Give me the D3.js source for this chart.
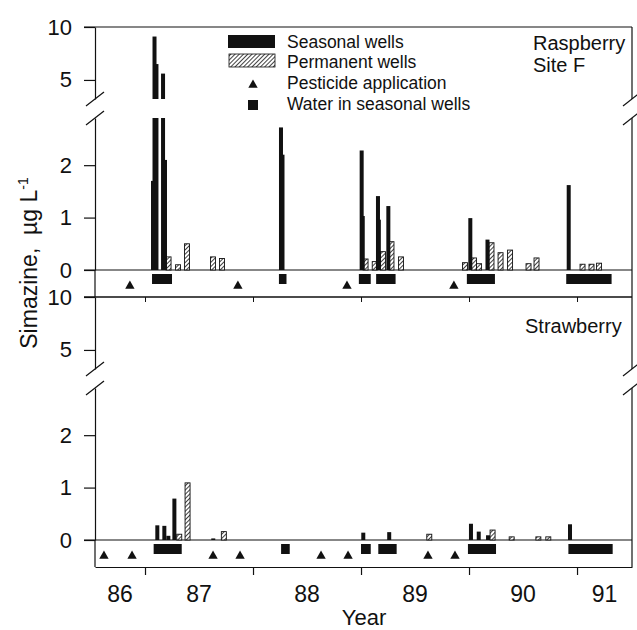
<!DOCTYPE html>
<html>
<head>
<meta charset="utf-8">
<script src="https://cdn.jsdelivr.net/npm/d3@7/dist/d3.min.js"></script>
<style>
  body { margin: 0; background: #fff; }
  svg text { font-family: "Liberation Sans", Arial, sans-serif; fill: #111; }
</style>
</head>
<body>
<div id="chart"></div>
<script>
// x axis: decimal years, ticks on Jan 1, labels centred in each year
const yearTicks = [1987, 1988, 1989, 1990, 1991];
const yearStarts = [1986, 1987, 1988, 1989, 1990, 1991];
const yearLabels = ["86", "87", "88", "89", "90", "91"];
// y axis ticks of the two (broken) segments
const lowTicks = [0, 1, 2];
const highTicks = [5, 10];

// Raspberry, site F  ([date, simazine ug/L])
const raspSeasonal = [
  [1987.074, 1.7], [1987.088, 9.1], [1987.106, 6.5], [1987.167, 5.6], [1987.185, 2.1],
  [1988.259, 2.72], [1988.273, 2.2],
  [1989.006, 2.28], [1989.016, 1.03], [1989.157, 1.41], [1989.165, 0.96], [1989.253, 1.22],
  [1990.012, 0.99], [1990.171, 0.58],
  [1990.923, 1.62]
];
const raspPermanent = [
  [1987.218, 0.25], [1987.306, 0.1], [1987.389, 0.5], [1987.63, 0.25], [1987.713, 0.22],
  [1989.042, 0.21], [1989.127, 0.16], [1989.204, 0.35], [1989.282, 0.54], [1989.37, 0.25],
  [1989.963, 0.14], [1990.046, 0.23], [1990.093, 0.12], [1990.208, 0.52], [1990.292, 0.33],
  [1990.38, 0.38], [1990.551, 0.12], [1990.625, 0.23],
  [1991.051, 0.11], [1991.134, 0.11], [1991.204, 0.13]
];
const raspWater = [
  [1987.065, 1987.25], [1988.24, 1988.31], [1988.98, 1989.09],
  [1989.14, 1989.32], [1989.98, 1990.24], [1990.90, 1991.32]
];
const raspApplications = [1986.86, 1987.86, 1988.87, 1989.86];

// Strawberry
const strawSeasonal = [
  [1987.114, 0.28], [1987.179, 0.27], [1987.216, 0.08], [1987.272, 0.79], [1987.632, 0.03],
  [1989.021, 0.14], [1989.261, 0.15],
  [1990.018, 0.31], [1990.09, 0.16], [1990.176, 0.09],
  [1990.935, 0.30]
];
const strawPermanent = [
  [1987.317, 0.11], [1987.394, 1.09], [1987.73, 0.16],
  [1989.632, 0.11], [1990.218, 0.19], [1990.395, 0.06], [1990.642, 0.06], [1990.734, 0.06]
];
const strawWater = [
  [1987.08, 1987.34], [1988.26, 1988.34], [1989.0, 1989.09],
  [1989.16, 1989.33], [1989.99, 1990.25], [1990.92, 1991.33]
];
const strawApplications = [1986.62, 1986.88, 1987.63, 1987.88, 1988.63, 1988.88, 1989.62, 1989.87];

const width = 637, height = 630;
const left = 95, right = 632;
const ink = "#111";

const svg = d3.select("#chart").append("svg")
  .attr("width", width)
  .attr("height", height);

const defs = svg.append("defs");
const pat = defs.append("pattern")
  .attr("id", "hatch")
  .attr("patternUnits", "userSpaceOnUse")
  .attr("width", 3).attr("height", 3)
  .attr("patternTransform", "rotate(45)");
pat.append("rect").attr("width", 3).attr("height", 3).attr("fill", "#fff");
pat.append("line").attr("x1", 0).attr("y1", 0).attr("x2", 0).attr("y2", 3)
  .attr("stroke", ink).attr("stroke-width", 1.6);

const x = d3.scaleLinear().domain([1986.537, 1991.509]).range([left, right]);

const LOW_MAX = 2.9, HIGH_MIN = 3.2;

const panels = [
  { top: 27, seasonal: raspSeasonal, permanent: raspPermanent, water: raspWater,
    apps: raspApplications, title: ["Raspberry", "Site F"], titleX: 533, titleY: [50, 72] },
  { top: 297, seasonal: strawSeasonal, permanent: strawPermanent, water: strawWater,
    apps: strawApplications, title: ["Strawberry"], titleX: 525, titleY: [333] }
];

panels.forEach((p, i) => {
  const g = svg.append("g").attr("transform", `translate(0,${p.top})`);
  const yHigh = d3.scaleLinear().domain([HIGH_MIN, 10]).range([72, 0]);
  const yLow = d3.scaleLinear().domain([0, LOW_MAX]).range([243, 91]);

  // y axes (two segments)
  const axHigh = g.append("g").attr("transform", `translate(${left},0)`)
    .call(d3.axisLeft(yHigh).tickValues(highTicks).tickFormat(d3.format("d"))
      .tickSize(11).tickSizeOuter(0).tickPadding(12));
  const axLow = g.append("g").attr("transform", `translate(${left},0)`)
    .call(d3.axisLeft(yLow).tickValues(lowTicks).tickFormat(d3.format("d"))
      .tickSize(11).tickSizeOuter(0).tickPadding(12));
  [axHigh, axLow].forEach(a => {
    a.selectAll("path, line").attr("stroke", ink).attr("stroke-width", 1.2);
    a.selectAll("text").attr("font-size", 22).attr("fill", ink)
      .attr("font-family", "'Liberation Sans', Arial, sans-serif");
  });

  // left axis through the strip
  g.append("line").attr("x1", left).attr("x2", left)
    .attr("y1", yLow(0)).attr("y2", 270).attr("stroke", ink).attr("stroke-width", 1.2);

  // right frame with break
  [[0, 72], [91, 270]].forEach(s => {
    g.append("line").attr("x1", right).attr("x2", right)
      .attr("y1", s[0]).attr("y2", s[1]).attr("stroke", ink).attr("stroke-width", 1.2);
  });

  // break slashes
  [left, right].forEach(bx => {
    [72, 91].forEach(by => {
      g.append("line")
        .attr("x1", bx - 9).attr("y1", by + 7)
        .attr("x2", bx + 9).attr("y2", by - 7)
        .attr("stroke", ink).attr("stroke-width", 1.2);
    });
  });

  // top frame (10) and zero line
  g.append("line").attr("x1", 84).attr("x2", right).attr("y1", 0).attr("y2", 0)
    .attr("stroke", ink).attr("stroke-width", 1.2);
  g.append("line").attr("x1", 84).attr("x2", right).attr("y1", yLow(0)).attr("y2", yLow(0))
    .attr("stroke", ink).attr("stroke-width", 1.2);

  // bars: seasonal (black) and permanent (hatched), broken at the axis break
  function barParts(data) {
    const parts = [];
    data.forEach(d => {
      parts.push({ t: d[0], y0: yLow(0), y1: yLow(Math.min(d[1], LOW_MAX)) });
      if (d[1] > HIGH_MIN) parts.push({ t: d[0], y0: yHigh(HIGH_MIN), y1: yHigh(d[1]) });
    });
    return parts;
  }

  g.selectAll(".perm").data(barParts(p.permanent)).join("rect")
    .attr("class", "perm")
    .attr("x", d => x(d.t) - 2.5)
    .attr("width", 5)
    .attr("y", d => d.y1)
    .attr("height", d => Math.max(0, d.y0 - d.y1))
    .attr("fill", "url(#hatch)")
    .attr("stroke", ink).attr("stroke-width", 0.9);

  g.selectAll(".seas").data(barParts(p.seasonal)).join("rect")
    .attr("class", "seas")
    .attr("x", d => x(d.t) - 2)
    .attr("width", 4)
    .attr("y", d => d.y1)
    .attr("height", d => Math.max(0, d.y0 - d.y1))
    .attr("fill", ink);

  // water in seasonal wells
  g.selectAll(".water").data(p.water).join("rect")
    .attr("class", "water")
    .attr("x", d => x(d[0]))
    .attr("width", d => x(d[1]) - x(d[0]))
    .attr("y", 247)
    .attr("height", 10)
    .attr("fill", ink);

  // pesticide applications
  g.selectAll(".app").data(p.apps).join("path")
    .attr("class", "app")
    .attr("transform", d => `translate(${x(d)},${259})`)
    .attr("d", d3.symbol(d3.symbolTriangle, 38))
    .attr("fill", ink);

  // panel title
  p.title.forEach((t, k) => {
    svg.append("text").attr("x", p.titleX).attr("y", p.titleY[k])
      .attr("font-size", 20).text(t);
  });
});

// strip bottom / shared line at 297 with inward ticks
svg.append("line").attr("x1", 84).attr("x2", right).attr("y1", 297).attr("y2", 297)
  .attr("stroke", ink).attr("stroke-width", 1.2);
const midAx = svg.append("g").attr("transform", "translate(0,297)")
  .call(d3.axisBottom(x).tickValues(yearTicks).tickSize(5).tickSizeOuter(0).tickFormat(""));
midAx.select(".domain").remove();
midAx.selectAll("line").attr("stroke", ink);

// bottom x axis
const xAx = svg.append("g").attr("transform", "translate(0,567)")
  .call(d3.axisBottom(x).tickValues(yearTicks).tickSize(8).tickSizeOuter(0).tickFormat(""));
xAx.selectAll("path, line").attr("stroke", ink).attr("stroke-width", 1.2);

const dom = x.domain();
svg.selectAll(".yearlab").data(yearStarts).join("text")
  .attr("class", "yearlab")
  .attr("x", (d) => (x(Math.max(d, dom[0])) + x(Math.min(d + 1, dom[1]))) / 2)
  .attr("y", 602)
  .attr("text-anchor", "middle")
  .attr("font-size", 23)
  .text((d, i) => yearLabels[i]);

svg.append("text").attr("x", 364).attr("y", 625).attr("text-anchor", "middle")
  .attr("font-size", 22).text("Year");

// y label
const yl = svg.append("text")
  .attr("transform", "translate(37,263) rotate(-90)")
  .attr("text-anchor", "middle")
  .attr("font-size", 23);
yl.append("tspan").text("Simazine,\u00a0 \u00b5g L");
yl.append("tspan").attr("dy", -9).attr("font-size", 14).text("-1");

// legend
const lg = svg.append("g");
lg.append("rect").attr("x", 228).attr("y", 35).attr("width", 47).attr("height", 13).attr("fill", ink);
lg.append("rect").attr("x", 229).attr("y", 54).attr("width", 46).attr("height", 13)
  .attr("fill", "url(#hatch)").attr("stroke", ink).attr("stroke-width", 0.8);
lg.append("path").attr("transform", "translate(253,85)")
  .attr("d", d3.symbol(d3.symbolTriangle, 38)).attr("fill", ink);
lg.append("rect").attr("x", 248).attr("y", 100).attr("width", 10).attr("height", 10).attr("fill", ink);

const legendText = ["Seasonal wells", "Permanent wells", "Pesticide application", "Water in seasonal wells"];
const legendY = [47.5, 67.5, 89, 110];
legendText.forEach((t, i) => {
  lg.append("text").attr("x", 287).attr("y", legendY[i]).attr("font-size", 17.5).text(t);
});
</script>
</body>
</html>
